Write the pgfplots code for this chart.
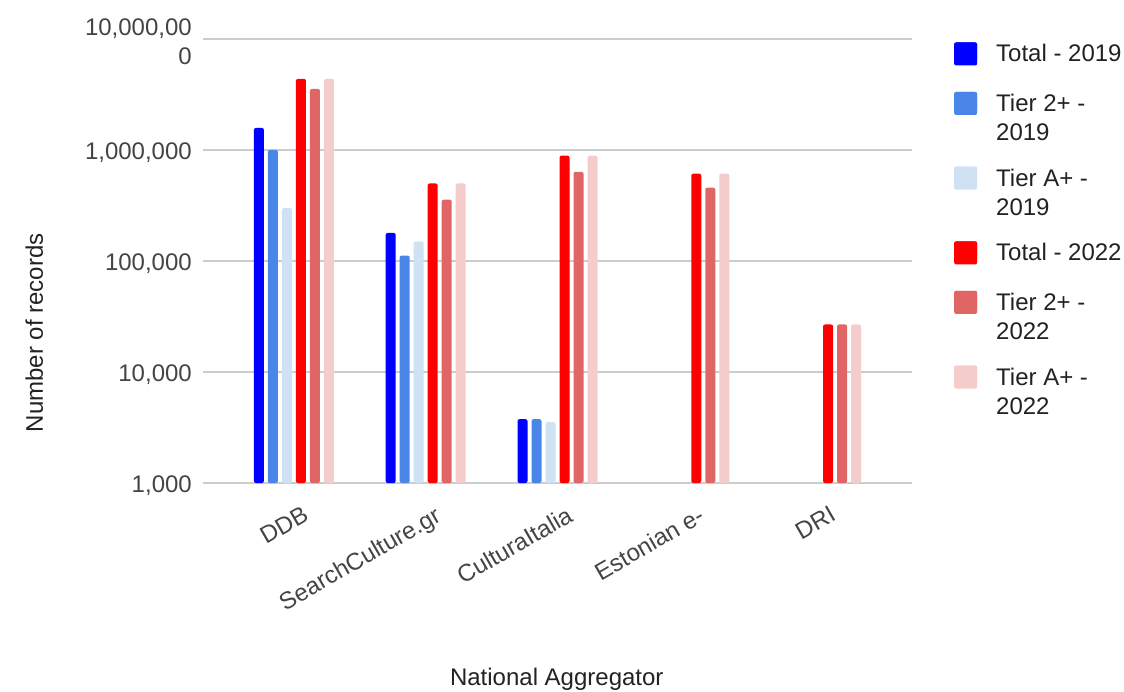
\documentclass[border=0pt]{standalone}
\usepackage{fontspec}
\setmainfont{Liberation Sans}
\usepackage{pgfplots}
\pgfplotsset{compat=1.18}
\definecolor{c1}{HTML}{0000FF}
\definecolor{c2}{HTML}{4A86E8}
\definecolor{c3}{HTML}{CFE2F3}
\definecolor{c4}{HTML}{FF0000}
\definecolor{c5}{HTML}{E06666}
\definecolor{c6}{HTML}{F4CCCC}
\definecolor{txt}{HTML}{222222}
\definecolor{tickc}{HTML}{444444}
\definecolor{gridc}{HTML}{CCCCCC}
\newcommand{\lent}[1]{\begin{tabular}[t]{@{}l@{}}#1\end{tabular}}
\newcommand{\lentx}[1]{\rule{0pt}{45.5pt}\begin{tabular}[t]{@{}l@{}}#1\end{tabular}}
\begin{document}
\begin{tikzpicture}[font=\fontsize{24}{29}\selectfont]
\begin{axis}[
  name=ax,
  scale only axis, width=709pt, height=444pt,
  ymode=log, log basis y=10, ymin=1000, ymax=10000000, log origin y=infty,
  xmin=-0.69, xmax=4.69,
  ybar=4pt, bar width=10pt,
  axis line style={draw=none},
  major tick length=0pt, minor tick length=0pt,
  xtick={0,1,2,3,4},
  xticklabels={DDB,SearchCulture.gr,CulturaItalia,Estonian e-,DRI},
  xticklabel style={text=tickc, inner sep=0pt, xshift=8pt, yshift=-22pt, rotate=30, anchor=north east},
  ytick={1000,10000,100000,1000000,10000000},
  yticklabels={{1,000},{10,000},{100,000},{1,000,000},{10,000,00\\0}},
  yticklabel style={text=tickc, align=right, inner sep=0pt, anchor=east, xshift=-11pt, yshift=-3pt},
  minor ytick={},
  xmajorgrids=false, ymajorgrids=true, grid style={draw=gridc, line width=1.4pt},
  xlabel={National Aggregator},
  xlabel style={text=txt, at={(axis description cs:0.499,-0.455)}, anchor=base},
  ylabel={Number of records},
  ylabel style={text=txt, at={(axis description cs:-0.2257,0.338)}, anchor=base},
  legend image code/.code={\useasboundingbox (0pt,0pt) rectangle (23pt,19.5pt);\fill[#1, rounded corners=2pt] (0pt,-3.5pt) rectangle (23pt,19.5pt);},
  legend style={at={(axis description cs:1.0592,0.9944)}, anchor=north west, draw=none, fill=none,
    inner sep=0pt, row sep=27.7pt, nodes={inner sep=0pt, text=txt}, cells={anchor=base west},
    /tikz/every odd column/.append style={column sep=19pt}},
]
\addplot[fill=c1, draw=none, rounded corners=2pt] coordinates {(0,1580000) (1,179000) (2,3760)};
\addplot[fill=c2, draw=none, rounded corners=2pt] coordinates {(0,1000000) (1,112000) (2,3760)};
\addplot[fill=c3, draw=none, rounded corners=2pt] coordinates {(0,300000) (1,150000) (2,3530)};
\addplot[fill=c4, draw=none, rounded corners=2pt] coordinates {(0,4370000) (1,500000) (2,888000) (3,612000) (4,26800)};
\addplot[fill=c5, draw=none, rounded corners=2pt] coordinates {(0,3550000) (1,357000) (2,636000) (3,458000) (4,26800)};
\addplot[fill=c6, draw=none, rounded corners=2pt] coordinates {(0,4370000) (1,500000) (2,888000) (3,612000) (4,26800)};
\legend{\lent{Total - 2019},\lent{Tier 2+ -\\2019},\lentx{Tier A+ -\\2019},\lentx{Total - 2022},\lent{Tier 2+ -\\2022},\lentx{Tier A+ -\\2022}}
\end{axis}
\pgfresetboundingbox
\path (ax.south west) ++(-203pt,-208pt) rectangle ++(1124pt,691pt);
\end{tikzpicture}
\end{document}
